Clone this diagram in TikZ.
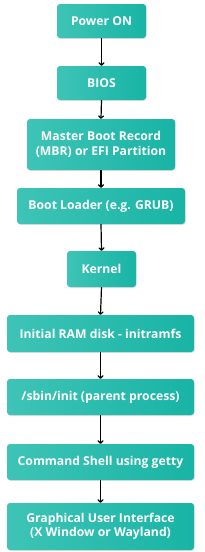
\documentclass[tikz,border=0pt]{standalone}
\usepackage{fontspec}
\setmainfont{Open Sans}
\usetikzlibrary{arrows.meta,shadows}
\definecolor{tealL}{RGB}{62,196,182}
\definecolor{tealR}{RGB}{24,180,165}
\begin{document}
\begin{tikzpicture}[x=1pt,y=-1pt,
  stepbox/.style={rounded corners=3pt, left color=tealL, right color=tealR, draw=none,
    text=white, font=\fontsize{12.2}{14.5}\selectfont\bfseries, align=center,
    inner sep=0pt, drop shadow={shadow xshift=0.6pt, shadow yshift=-0.8pt, opacity=0.25}},
  conn/.style={-{To[length=3.5pt,width=6pt]}, line width=1.2pt, black}]
\useasboundingbox (0,0) rectangle (204,552);
\fill[white] (0,0) rectangle (204,552);
\node[stepbox, minimum width=89pt, minimum height=34pt] (n1) at (101.5,21) {Power ON};
\node[stepbox, minimum width=89pt, minimum height=34pt] (n2) at (101.5,83) {BIOS};
\node[stepbox, minimum width=148pt, minimum height=51pt] (n3) at (101,144.5) {Master Boot Record\\(MBR) or EFI Partition};
\node[stepbox, minimum width=168pt, minimum height=36pt] (n4) at (101,206) {Boot Loader (e.g. GRUB)};
\node[stepbox, minimum width=69pt, minimum height=36pt] (n5) at (101.5,269) {Kernel};
\node[stepbox, minimum width=187pt, minimum height=37pt] (n6) at (100.5,333.5) {Initial RAM disk - initramfs};
\node[stepbox, minimum width=187pt, minimum height=36pt] (n7) at (100.5,397) {/sbin/init (parent process)};
\node[stepbox, minimum width=187pt, minimum height=36pt] (n8) at (100.5,462) {Command Shell using getty};
\node[stepbox, minimum width=187pt, minimum height=47pt] (n9) at (100.5,526.5) {Graphical User Interface\\(X Window or Wayland)};
\draw[conn] (n1.south) -- (n2.north);
\draw[conn] (n2.south) -- (n3.north);
\draw[conn] (n3.south) -- (n4.north);
\draw[conn] (n4.south) -- (n5.north);
\draw[conn] (n5.south) -- (n6.north);
\draw[conn] (n6.south) -- (n7.north);
\draw[conn] (n7.south) -- (n8.north);
\draw[conn] (n8.south) -- (n9.north);
\end{tikzpicture}
\end{document}
